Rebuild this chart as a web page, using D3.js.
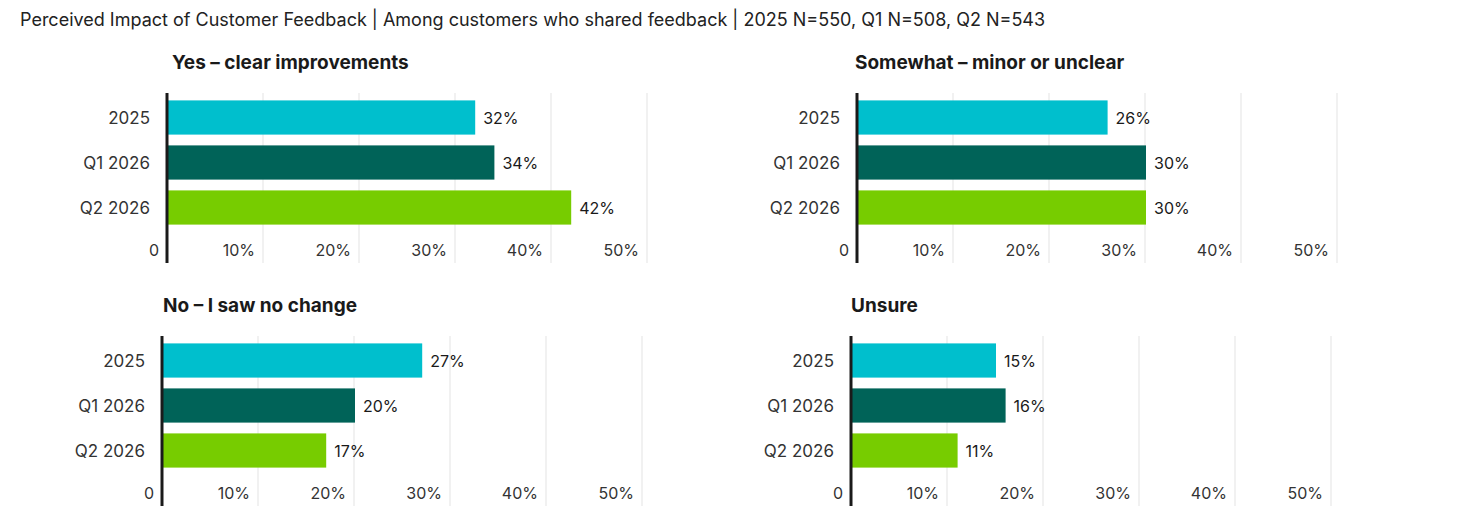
<!DOCTYPE html>
<html>
<head>
<meta charset="utf-8">
<script src="https://cdn.jsdelivr.net/npm/d3@7"></script>
<style>
body { margin: 0; background: #fff; }
text { font-family: Inter, "Noto Sans", sans-serif; }
</style>
</head>
<body>
<div id="canvas"></div>
<script>
var chartTitle = "Perceived Impact of Customer Feedback | Among customers who shared feedback | 2025 N=550, Q1 N=508, Q2 N=543";
var periods = ["2025", "Q1 2026", "Q2 2026"];
var panelTitles = ["Yes – clear improvements", "Somewhat – minor or unclear", "No – I saw no change", "Unsure"];
var yesValues = [32, 34, 42];
var somewhatValues = [26, 30, 30];
var noValues = [27, 20, 17];
var unsureValues = [15, 16, 11];
var ticks = [0, 10, 20, 30, 40, 50];
var colors = ["#00bfcd", "#006358", "#77cc00"];

var panels = [
  { title: panelTitles[0], values: yesValues, x: 167, y: 93, tx: 172 },
  { title: panelTitles[1], values: somewhatValues, x: 857, y: 93, tx: 855 },
  { title: panelTitles[2], values: noValues, x: 162, y: 336, tx: 163 },
  { title: panelTitles[3], values: unsureValues, x: 851, y: 336, tx: 851 }
];

var svg = d3.select("#canvas").append("svg")
  .attr("width", 1462).attr("height", 520);

svg.append("text").attr("x", 20).attr("y", 26)
  .attr("font-size", 18).attr("fill", "#222").text(chartTitle);

var width = 480, height = 170;

panels.forEach(function (p) {
  var g = svg.append("g").attr("transform", "translate(" + p.x + "," + p.y + ")");
  var x = d3.scaleLinear().domain([0, 50]).range([0, width]);
  var y = d3.scaleBand().domain(periods).range([2, 137]).paddingInner(0.24).paddingOuter(0.12);

  svg.append("text").attr("x", p.tx).attr("y", p.y - 24)
    .attr("font-size", 19).attr("font-weight", 700).attr("fill", "#1a1a1a").text(p.title);

  g.selectAll(".grid").data(ticks.slice(1)).enter().append("line")
    .attr("x1", function (d) { return x(d); }).attr("x2", function (d) { return x(d); })
    .attr("y1", 0).attr("y2", height)
    .attr("stroke", "#ececec").attr("stroke-width", 1.5);

  g.selectAll(".tick").data(ticks).enter().append("text")
    .attr("x", function (d) { return d === 0 ? -8 : x(d) - 8; })
    .attr("y", 163).attr("text-anchor", "end")
    .attr("font-size", 16).attr("fill", "#333")
    .text(function (d) { return d === 0 ? "0" : d + "%"; });

  g.selectAll(".bar").data(p.values).enter().append("rect")
    .attr("x", 1).attr("y", function (d, i) { return y(periods[i]); })
    .attr("width", function (d) { return x(d); })
    .attr("height", y.bandwidth())
    .attr("fill", function (d, i) { return colors[i]; });

  g.selectAll(".val").data(p.values).enter().append("text")
    .attr("x", function (d) { return x(d) + 9; })
    .attr("y", function (d, i) { return y(periods[i]) + y.bandwidth() / 2 + 6; })
    .attr("font-size", 16).attr("fill", "#1a1a1a")
    .text(function (d) { return d + "%"; });

  g.selectAll(".cat").data(periods).enter().append("text")
    .attr("x", -17).attr("y", function (d) { return y(d) + y.bandwidth() / 2 + 6; })
    .attr("text-anchor", "end").attr("font-size", 17).attr("fill", "#333")
    .text(function (d) { return d; });

  g.append("line").attr("x1", 0).attr("x2", 0).attr("y1", 0).attr("y2", height)
    .attr("stroke", "#1a1a1a").attr("stroke-width", 3);
});
</script>
</body>
</html>
